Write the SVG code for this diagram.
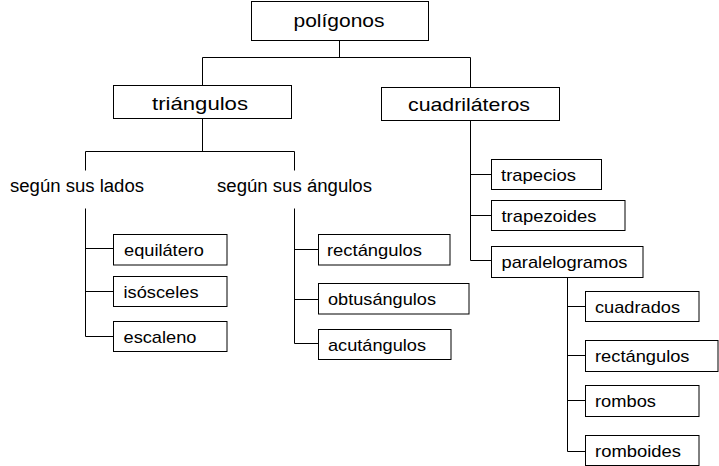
<svg xmlns="http://www.w3.org/2000/svg" width="719" height="466" viewBox="0 0 719 466">
<style>
.box{fill:#fff;stroke:#000;stroke-width:1}
.c{fill:none;stroke:#000;stroke-width:1}
text{font-family:"Liberation Sans",Arial,sans-serif;fill:#000}
.t1{font-size:19px}
.t2{font-size:18px}
.t3{font-size:17px}
</style>
<rect width="719" height="466" fill="#fff"/>
<g id="connectors" class="c">
<path d="M339.5 41 V57.5 M202.5 57.5 H470.5 M202.5 57.5 V85.5 M470.5 57.5 V87.5"/>
<path d="M202.5 118.5 V151.5 M85.5 151.5 H294.5 M85.5 151.5 V170.5 M294.5 151.5 V170.5"/>
<path d="M85.5 208.5 V336.5 M85.5 248.5 H113.5 M85.5 291.5 H113.5 M85.5 336.5 H113.5"/>
<path d="M294.5 208.5 V343.5 M294.5 249.5 H318.5 M294.5 299.5 H318.5 M294.5 343.5 H318.5"/>
<path d="M470.5 120.5 V260.5 M470.5 174.5 H491.5 M470.5 215.5 H491.5 M470.5 260.5 H491.5"/>
<path d="M567.5 277.5 V451.5 M567.5 306.5 H585.5 M567.5 355.5 H585.5 M567.5 400.5 H585.5 M567.5 451.5 H585.5"/>
</g>
<g id="poligonos"><rect class="box" x="251.5" y="1.5" width="177" height="39"/><text class="t1" x="339" y="26.5" text-anchor="middle" textLength="91" lengthAdjust="spacingAndGlyphs">polígonos</text></g>
<g id="triangulos"><rect class="box" x="113.5" y="85.5" width="178" height="33"/><text class="t1" x="200" y="109.5" text-anchor="middle" textLength="96" lengthAdjust="spacingAndGlyphs">triángulos</text></g>
<g id="cuadrilateros"><rect class="box" x="381.5" y="87.5" width="178" height="33"/><text class="t1" x="469" y="111" text-anchor="middle" textLength="122" lengthAdjust="spacingAndGlyphs">cuadriláteros</text></g>
<g id="segun-lados"><text class="t2" x="10" y="192" textLength="134" lengthAdjust="spacingAndGlyphs">según sus lados</text></g>
<g id="segun-angulos"><text class="t2" x="217" y="192" textLength="155" lengthAdjust="spacingAndGlyphs">según sus ángulos</text></g>
<g id="equilatero"><rect class="box" x="113.5" y="234.5" width="113.5" height="30.5"/><text class="t3" x="124" y="255.5" textLength="80" lengthAdjust="spacingAndGlyphs">equilátero</text></g>
<g id="isosceles"><rect class="box" x="113.5" y="276.5" width="113.5" height="30"/><text class="t3" x="123.5" y="297.5" textLength="75" lengthAdjust="spacingAndGlyphs">isósceles</text></g>
<g id="escaleno"><rect class="box" x="113.5" y="321.5" width="113.5" height="30"/><text class="t3" x="123.5" y="342.5" textLength="73" lengthAdjust="spacingAndGlyphs">escaleno</text></g>
<g id="rectangulos-t"><rect class="box" x="318.5" y="234.5" width="131.5" height="30.5"/><text class="t3" x="327" y="255.5" textLength="95" lengthAdjust="spacingAndGlyphs">rectángulos</text></g>
<g id="obtusangulos"><rect class="box" x="318.5" y="283.5" width="150.5" height="30.5"/><text class="t3" x="328" y="304.5" textLength="108" lengthAdjust="spacingAndGlyphs">obtusángulos</text></g>
<g id="acutangulos"><rect class="box" x="318.5" y="329.5" width="132.5" height="30"/><text class="t3" x="328" y="350.5" textLength="98" lengthAdjust="spacingAndGlyphs">acutángulos</text></g>
<g id="trapecios"><rect class="box" x="491.5" y="159.5" width="110" height="30"/><text class="t3" x="501" y="180.5" textLength="75" lengthAdjust="spacingAndGlyphs">trapecios</text></g>
<g id="trapezoides"><rect class="box" x="491.5" y="200.5" width="133.5" height="30"/><text class="t3" x="501.5" y="221.5" textLength="95" lengthAdjust="spacingAndGlyphs">trapezoides</text></g>
<g id="paralelogramos"><rect class="box" x="491.5" y="246.5" width="151.5" height="31"/><text class="t3" x="501.5" y="268" textLength="126" lengthAdjust="spacingAndGlyphs">paralelogramos</text></g>
<g id="cuadrados"><rect class="box" x="585.5" y="291.5" width="113.5" height="30"/><text class="t3" x="595" y="312.5" textLength="85" lengthAdjust="spacingAndGlyphs">cuadrados</text></g>
<g id="rectangulos-c"><rect class="box" x="585.5" y="340.5" width="132.5" height="31"/><text class="t3" x="595" y="362" textLength="94.5" lengthAdjust="spacingAndGlyphs">rectángulos</text></g>
<g id="rombos"><rect class="box" x="585.5" y="385.5" width="113.5" height="31"/><text class="t3" x="595" y="407" textLength="61" lengthAdjust="spacingAndGlyphs">rombos</text></g>
<g id="romboides"><rect class="box" x="585.5" y="435.5" width="113.5" height="30"/><text class="t3" x="595" y="456.5" textLength="86" lengthAdjust="spacingAndGlyphs">romboides</text></g>
</svg>
